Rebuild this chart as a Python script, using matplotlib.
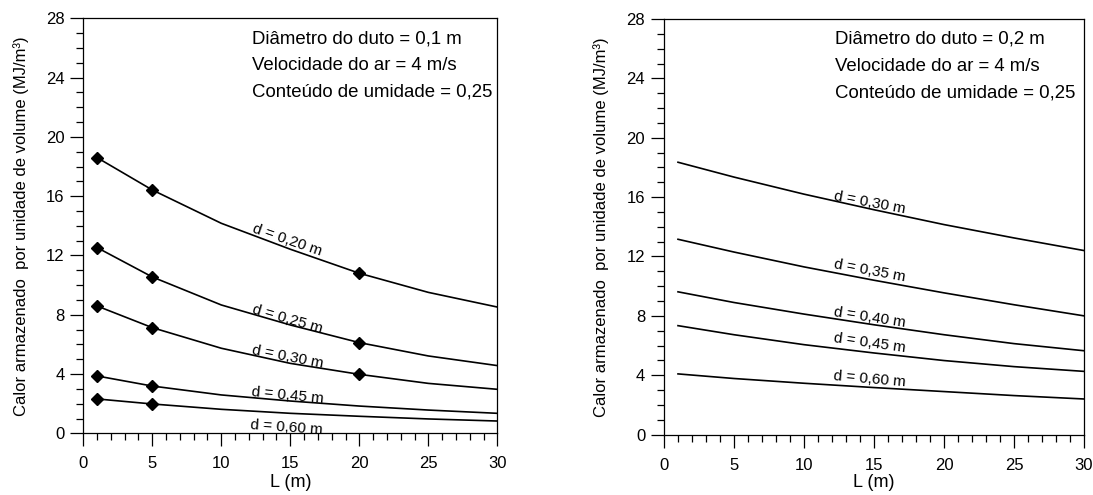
import matplotlib
matplotlib.use("Agg")
import matplotlib.pyplot as plt
from matplotlib.ticker import MultipleLocator

plt.rcParams['font.family'] = ['Liberation Sans', 'DejaVu Sans']

# ---------------- data ----------------
L = [1, 5, 10, 15, 20, 25, 30]

# left panel (duct diameter 0.1 m)
left_labels = ["d = 0,20 m", "d = 0,25 m", "d = 0,30 m", "d = 0,45 m", "d = 0,60 m"]
left_d020 = [18.60, 16.42, 14.17, 12.42, 10.80, 9.51, 8.52]
left_d025 = [12.53, 10.55, 8.66, 7.31, 6.12, 5.22, 4.57]
left_d030 = [8.59, 7.13, 5.74, 4.72, 3.98, 3.37, 2.97]
left_d045 = [3.87, 3.19, 2.59, 2.18, 1.84, 1.57, 1.35]
left_d060 = [2.32, 1.98, 1.62, 1.35, 1.15, 0.97, 0.83]
left_series = [left_d020, left_d025, left_d030, left_d045, left_d060]
# L values carrying a diamond marker, per series
left_marker_L = [[1, 5, 20], [1, 5, 20], [1, 5, 20], [1, 5], [1, 5]]

# right panel (duct diameter 0.2 m)
right_labels = ["d = 0,30 m", "d = 0,35 m", "d = 0,40 m", "d = 0,45 m", "d = 0,60 m"]
right_d030 = [18.35, 17.35, 16.20, 15.15, 14.15, 13.25, 12.40]
right_d035 = [13.16, 12.30, 11.30, 10.40, 9.55, 8.75, 8.00]
right_d040 = [9.62, 8.90, 8.12, 7.40, 6.73, 6.13, 5.65]
right_d045 = [7.34, 6.73, 6.06, 5.50, 4.99, 4.58, 4.26]
right_d060 = [4.09, 3.78, 3.46, 3.17, 2.90, 2.63, 2.40]
right_series = [right_d030, right_d035, right_d040, right_d045, right_d060]

left_info = ["Diâmetro do duto = 0,1 m", "Velocidade do ar = 4 m/s", "Conteúdo de umidade = 0,25"]
right_info = ["Diâmetro do duto = 0,2 m", "Velocidade do ar = 4 m/s", "Conteúdo de umidade = 0,25"]

xlabel = "L (m)"
ylabel = "Calor armazenado  por unidade de volume (MJ/m³)"

# label placement (position in data coords, rotation in degrees)
left_lab_pos = [(14.8, 13.04, -19), (14.8, 7.69, -16), (14.8, 5.17, -11), (14.8, 2.58, -5.5), (14.7, 0.40, -4)]
right_lab_pos = [(14.7, 15.62, -10.6), (14.7, 11.02, -10.6), (14.7, 7.89, -8.7), (14.7, 6.14, -8), (14.7, 3.74, -5)]

fig = plt.figure(figsize=(10.93, 4.95), dpi=100)
axL = fig.add_axes([0.0762, 0.1246, 0.3788, 0.8384])
axR = fig.add_axes([0.6075, 0.1220, 0.3843, 0.8396])


def style(ax, xpad):
    ax.set_xlim(0, 30)
    ax.set_ylim(0, 28)
    ax.xaxis.set_major_locator(MultipleLocator(5))
    ax.xaxis.set_minor_locator(MultipleLocator(1))
    ax.yaxis.set_major_locator(MultipleLocator(4))
    ax.yaxis.set_minor_locator(MultipleLocator(1))
    ax.tick_params(which='both', direction='out', top=False, right=False, width=0.9, colors='black')
    ax.tick_params(which='major', length=9.5)
    ax.tick_params(which='minor', length=5)
    ax.tick_params(axis='x', which='major', labelsize=12, pad=7)
    ax.tick_params(axis='y', which='major', labelsize=12, pad=4)
    for s in ax.spines.values():
        s.set_linewidth(0.9)
    ax.set_xlabel(xlabel, fontsize=13, labelpad=xpad)
    ax.set_ylabel(ylabel, fontsize=12)
    ax.yaxis.set_label_coords(-0.132, 0.5)


style(axL, 2)
style(axR, 1)

for vals, mL in zip(left_series, left_marker_L):
    axL.plot(L, vals, color='black', lw=1.2)
    mv = [vals[L.index(m)] for m in mL]
    axL.plot(mL, mv, linestyle='none', marker='D', ms=6, color='black')

for vals in right_series:
    axR.plot(L, vals, color='black', lw=1.2)

for (x, y, r), t in zip(left_lab_pos, left_labels):
    axL.text(x, y, t, fontsize=11, rotation=r, ha='center', va='center', rotation_mode='anchor')
for (x, y, r), t in zip(right_lab_pos, right_labels):
    axR.text(x, y, t, fontsize=11, rotation=r, ha='center', va='center', rotation_mode='anchor')

for ax, info in ((axL, left_info), (axR, right_info)):
    for t, y in zip(info, [26.62, 24.82, 23.03]):
        ax.text(12.2, y, t, fontsize=13.4, ha='left', va='center')

fig.savefig("out.png", dpi=100)
